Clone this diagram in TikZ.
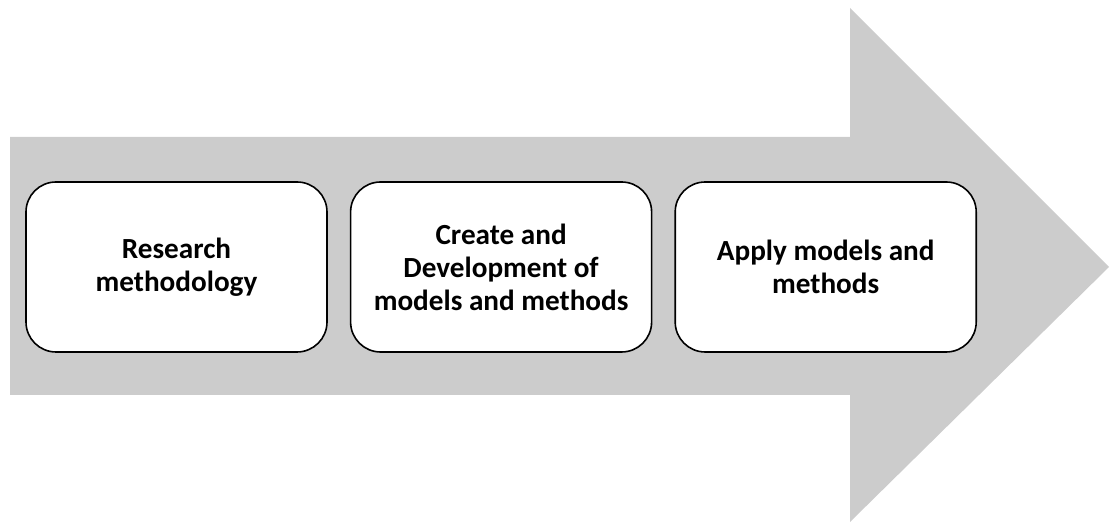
\documentclass[tikz,border=0pt]{standalone}
\usepackage{fontspec}
\setmainfont{Carlito}
\usetikzlibrary{positioning}
\begin{document}
\begin{tikzpicture}[x=1pt,y=1pt,
  stage/.style={draw,line width=1.6pt,fill=white,rounded corners=30pt,
    minimum width=301pt,minimum height=170pt,align=center,
    font=\fontsize{29.2}{33}\selectfont\bfseries}]
  \useasboundingbox (0,0) rectangle (1111,526);
  % big arrow
  \fill[black!20] (10,131) -- (10,389) -- (850,389) -- (850,518)
    -- (1109,259) -- (850,4) -- (850,131) -- cycle;
  % stages
  \node[stage] (research) at (176.5,259) {Research\\methodology};
  \node[stage,right=22pt of research] (develop) {Create and\\Development of\\models and methods};
  \node[stage,right=22pt of develop] (apply) {Apply models and\\methods};
\end{tikzpicture}
\end{document}
